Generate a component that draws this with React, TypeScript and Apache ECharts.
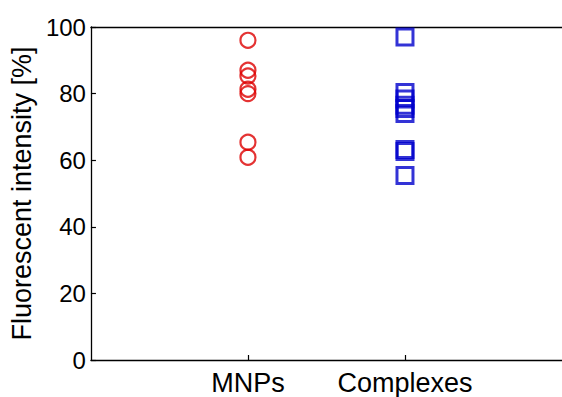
import React, { useEffect, useRef } from "react";
import * as echarts from "echarts";

const categories = ["MNPs", "Complexes"];
const mnpsValues = [96, 87, 85.3, 81.3, 80, 65.4, 60.9];
const complexesValues = [97, 80.3, 78.4, 76.5, 75.5, 74, 63.2, 62.6, 55.4];
const yTicks = [0, 20, 40, 60, 80, 100];

const FONT = "'Liberation Sans', Arial, Helvetica, sans-serif";

export default function App() {
  const ref = useRef<HTMLDivElement>(null);
  useEffect(() => {
    if (!ref.current) return;
    const chart = echarts.init(ref.current, undefined, { renderer: "svg" });
    const axisLine = { show: true, lineStyle: { color: "#000", width: 1.3 } };
    chart.setOption({
      animation: false,
      backgroundColor: "#fff",
      grid: { left: 88, top: 27, right: 0, bottom: 37 },
      xAxis: [
        {
          type: "value",
          min: 0,
          max: 3,
          interval: 1,
          splitLine: { show: false },
          axisLine,
          axisTick: {
            show: true,
            inside: true,
            length: 5,
            customValues: [1, 2],
            lineStyle: { color: "#000", width: 1.2 },
          },
          axisLabel: {
            customValues: [1, 2],
            formatter: (v: number) => categories[Math.round(v) - 1] ?? "",
            fontFamily: FONT,
            fontSize: 27,
            color: "#000",
            margin: 9,
          },
        },
        {
          type: "value",
          position: "top",
          min: 0,
          max: 3,
          axisLine,
          axisTick: { show: false },
          axisLabel: { show: false },
          splitLine: { show: false },
        },
      ],
      yAxis: {
        type: "value",
        min: yTicks[0],
        max: yTicks[yTicks.length - 1],
        interval: 20,
        splitLine: { show: false },
        axisLine,
        axisTick: { show: true, inside: true, length: 5, lineStyle: { color: "#000", width: 1.2 } },
        axisLabel: { fontFamily: FONT, fontSize: 24, color: "#000", margin: 5 },
        name: "Fluorescent intensity [%]",
        nameLocation: "middle",
        nameGap: 53,
        nameTextStyle: { fontFamily: FONT, fontSize: 27, color: "#000" },
      },
      series: [
        {
          type: "scatter",
          name: categories[0],
          data: mnpsValues.map((v) => [1, v]),
          symbol: "circle",
          symbolSize: 15,
          itemStyle: { color: "rgba(0,0,0,0)", borderColor: "#dd0000", borderWidth: 2.2 },
        },
        {
          type: "scatter",
          name: categories[1],
          data: complexesValues.map((v) => [2, v]),
          symbol: "rect",
          symbolSize: 16,
          itemStyle: { color: "rgba(0,0,0,0)", borderColor: "#0000cc", borderWidth: 3 },
        },
      ],
    });
    return () => chart.dispose();
  }, []);
  return (
    <div
      ref={ref}
      style={{ position: "absolute", left: 0, top: 0, width: 562, height: 397 }}
    />
  );
}
